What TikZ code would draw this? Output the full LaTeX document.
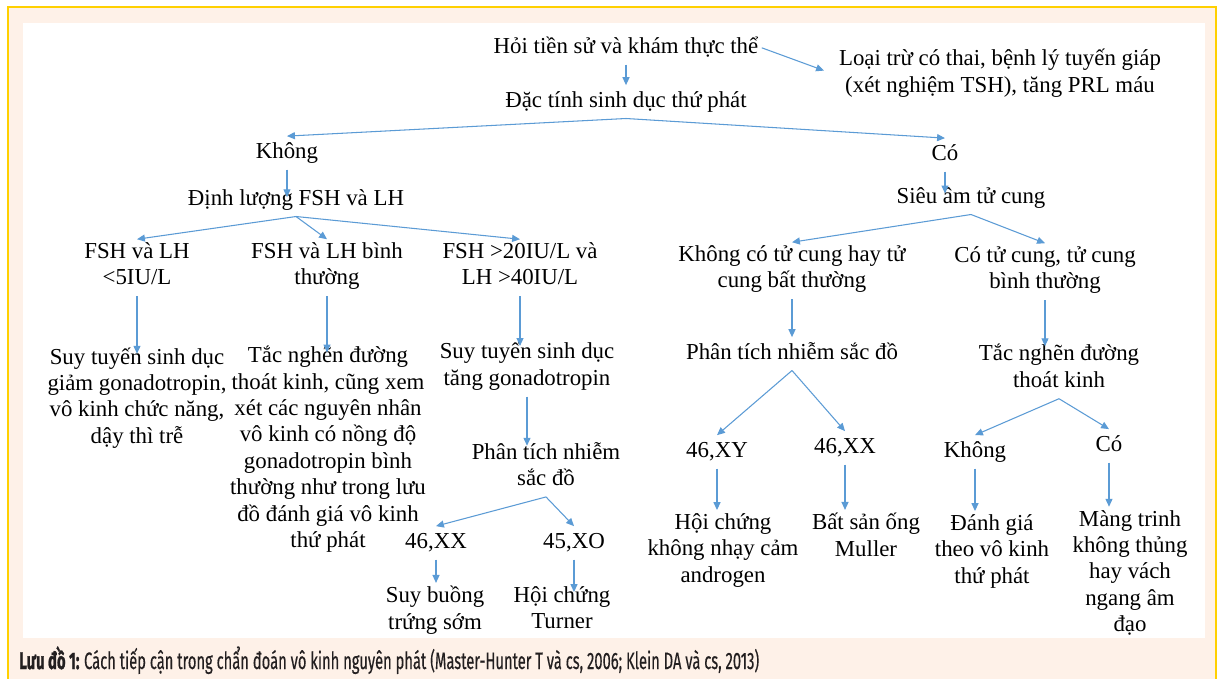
\documentclass[tikz,border=0pt]{standalone}
\usepackage{fontspec}
\setmainfont{Liberation Serif}
\newfontfamily\captionsans{Fira Sans}[FakeBold=0.5, BoldFeatures={FakeBold=1.5}]
\usepackage{tikz}
\usetikzlibrary{arrows.meta}
\definecolor{ArrowBlue}{RGB}{91,155,213}
\definecolor{FrameGold}{RGB}{255,208,0}
\definecolor{PaleCream}{RGB}{254,241,232}
\definecolor{CaptionInk}{RGB}{35,31,32}

\begin{document}
\begin{tikzpicture}[x=0.02cm, y=-0.02cm,
  txt/.style={align=center, inner sep=2pt, outer sep=0pt, yshift=-1.6pt,
              font=\fontsize{13}{15}\selectfont,
              execute at begin node=\strut, execute at end node=\strut},
  arr/.style={-{Triangle[length=4.5pt,width=4pt]}, ArrowBlue, line width=0.6pt},
]
\useasboundingbox (0,0) rectangle (1220,679);
% Frame and panel
\fill[PaleCream] (8,7) rectangle (1216,679);
\draw[FrameGold, line width=1.2pt] (8,679) -- (8,7) -- (1216,7) -- (1216,679);
\fill[white] (23,23) rectangle (1205,638);

% Top of the chart
\node[txt] (root)  at (626,45)  {Hỏi tiền sử và khám thực thể};
\node[txt] (excl)  at (1000,72) {Loại trừ có thai, bệnh lý tuyến giáp\\(xét nghiệm TSH), tăng PRL máu};
\node[txt] (dac)   at (626,99)  {Đặc tính sinh dục thứ phát};
\node[txt] (khong) at (287,150) {Không};
\node[txt] (co)    at (945,152) {Có};

% Left branch
\node[txt] (dinhluong) at (296,197) {Định lượng FSH và LH};
\node[txt] (lowFSH)    at (137,265) {FSH và LH\\<5IU/L};
\node[txt] (normFSH)   at (327,265) {FSH và LH bình\\thường};
\node[txt] (highFSH)   at (520,265) {FSH >20IU/L và\\LH >40IU/L};
\node[txt] (hypoGn)    at (137,396.5) {Suy tuyến sinh dục\\giảm gonadotropin,\\vô kinh chức năng,\\dậy thì trễ};
\node[txt] (outflow)   at (328,448) {Tắc nghẽn đường\\thoát kinh, cũng xem\\xét các nguyên nhân\\vô kinh có nồng độ\\gonadotropin bình\\thường như trong lưu\\đồ đánh giá vô kinh\\thứ phát};
\node[txt] (hyperGn)   at (527,365) {Suy tuyến sinh dục\\tăng gonadotropin};
\node[txt] (karyoL)    at (546,465) {Phân tích nhiễm\\sắc đồ};
\node[txt] (xxL)       at (436,540) {46,XX};
\node[txt] (xo)        at (574,540) {45,XO};
\node[txt] (pof)       at (435,609) {Suy buồng\\trứng sớm};
\node[txt] (turner)    at (562,609) {Hội chứng\\Turner};

% Right branch
\node[txt] (sieuam)    at (971,195) {Siêu âm tử cung};
\node[txt] (noUterus)  at (792,268) {Không có tử cung hay tử\\cung bất thường};
\node[txt] (uterus)    at (1045,269) {Có tử cung, tử cung\\bình thường};
\node[txt] (karyoR)    at (792,351) {Phân tích nhiễm sắc đồ};
\node[txt] (outflowR)  at (1059,367) {Tắc nghẽn đường\\thoát kinh};
\node[txt] (xy)        at (717,449) {46,XY};
\node[txt] (xxR)       at (845,445) {46,XX};
\node[txt] (khongR)    at (975,449) {Không};
\node[txt] (coR)       at (1109,443) {Có};
\node[txt] (ais)       at (723,549) {Hội chứng\\không nhạy cảm\\androgen};
\node[txt] (mullerian) at (866,536) {Bất sản ống\\Muller};
\node[txt] (secondary) at (992,550) {Đánh giá\\theo vô kinh\\thứ phát};
\node[txt] (hymen)     at (1130,572) {Màng trinh\\không thủng\\hay vách\\ngang âm\\đạo};

% Arrows
\draw[arr] (root.south) -- (root.south |- dac.north);
\draw[arr, shorten >=7pt] (root.east) -- (excl.west);
\foreach \child in {khong,co}
  \draw[arr] (dac.south) -- (\child.north);
\draw[arr, shorten >=-8pt] (khong.south) -- (khong.south |- dinhluong.north);
\draw[arr, shorten >=-7pt] (co.south) -- (co.south |- sieuam.north);
\foreach \child in {lowFSH,normFSH,highFSH}
  \draw[arr] (dinhluong.south) -- (\child.north);
\draw[arr, shorten >=-5.5pt] (lowFSH.south) -- (lowFSH.south |- hypoGn.north);
\draw[arr, shorten >=-5.5pt] (normFSH.south) -- (normFSH.south |- outflow.north);
\draw[arr, shorten >=-4pt] (highFSH.south) -- (highFSH.south |- hyperGn.north);
\draw[arr, shorten >=-4pt] (hyperGn.south) -- (hyperGn.south |- karyoL.north);
\foreach \child in {xxL,xo}
  \draw[arr] (karyoL.south) -- (\child.north);
\draw[arr] (xxL.south) -- (xxL.south |- pof.north);
\draw[arr, shorten >=-5pt] (xo.south) -- (xo.south |- turner.north);
\foreach \child in {noUterus,uterus}
  \draw[arr] (sieuam.south) -- (\child.north);
\draw[arr] (noUterus.south) -- (noUterus.south |- karyoR.north);
\draw[arr, shorten >=-3pt] (uterus.south) -- (uterus.south |- outflowR.north);
\foreach \child in {xy,xxR}
  \draw[arr] (karyoR.south) -- (\child.north);
\foreach \child in {khongR,coR}
  \draw[arr] (outflowR.south) -- (\child.north);
\draw[arr] (xy.south) -- (xy.south |- ais.north);
\draw[arr] (xxR.south) -- (xxR.south |- mullerian.north);
\draw[arr] (khongR.south) -- (khongR.south |- secondary.north);
\draw[arr] (coR.south) -- (coR.south |- hymen.north);

% Caption
\node[anchor=base west, inner sep=0pt, text=CaptionInk] (caption) at (19,669)
  {\captionsans\fontsize{13.5}{15}\selectfont\resizebox{14.8cm}{\height}{\bfseries Lưu đồ 1: \mdseries Cách tiếp cận trong chẩn đoán vô kinh nguyên phát (Master-Hunter T và cs, 2006; Klein DA và cs, 2013)}};
\end{tikzpicture}
\end{document}
